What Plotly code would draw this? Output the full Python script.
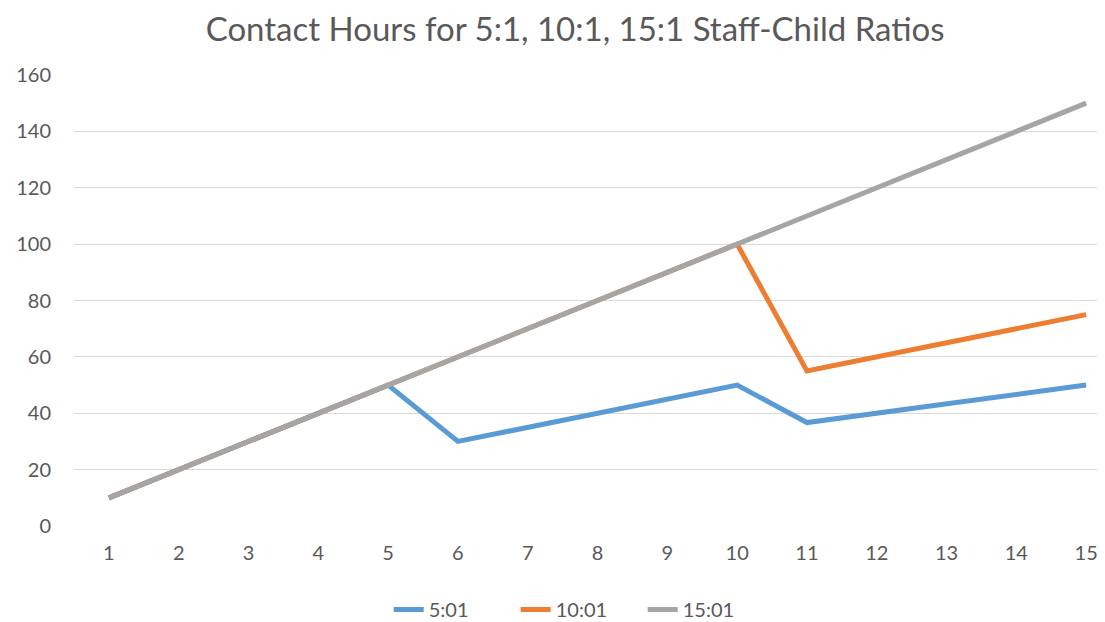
import plotly.graph_objects as go

children = list(range(1, 16))
ratio_5 = [10, 20, 30, 40, 50, 30, 35, 40, 45, 50, 36.7, 40, 43.3, 46.7, 50]
ratio_10 = [10, 20, 30, 40, 50, 60, 70, 80, 90, 100, 55, 60, 65, 70, 75]
ratio_15 = [10, 20, 30, 40, 50, 60, 70, 80, 90, 100, 110, 120, 130, 140, 150]
series_names = ["5:01", "10:01", "15:01"]
colors = ["#5B9BD5", "#ED7D31", "#A5A5A5"]

fig = go.Figure()
for name, vals, col in zip(series_names, [ratio_5, ratio_10, ratio_15], colors):
    fig.add_trace(go.Scatter(x=children, y=vals, mode="lines", name=name,
                             line=dict(color=col, width=5)))

font = "Lato, 'Open Sans', sans-serif"
fig.update_layout(
    width=1097, height=614,
    paper_bgcolor="white", plot_bgcolor="white",
    margin=dict(l=66, r=0, t=67, b=96, autoexpand=False),
    title=dict(text="Contact Hours for 5:1, 10:1, 15:1 Staff-Child Ratios",
               x=0.517, xanchor="center", y=0.965, yanchor="middle",
               font=dict(family=font, size=33, color="#595959")),
    font=dict(family=font, size=20, color="#595959"),
    xaxis=dict(range=[0.5, 15.27], tickmode="array", tickvals=children,
               ticktext=[str(c) for c in children], showgrid=False,
               zeroline=False, showline=False, ticks="", automargin=False,
               ticklabelstandoff=13,
               tickfont=dict(size=20, color="#595959")),
    yaxis=dict(range=[0, 160], dtick=20, showgrid=True, gridcolor="#D9D9D9",
               gridwidth=1.3, zeroline=False, showline=False, ticks="",
               ticklabelstandoff=22, automargin=False,
               tickfont=dict(size=20, color="#595959")),
    legend=dict(orientation="h", x=0.49, xanchor="center", y=-0.185, yanchor="middle",
                font=dict(size=20, color="#595959"), entrywidth=82, tracegroupgap=0),
    showlegend=True,
)

fig.write_html("out.html")
